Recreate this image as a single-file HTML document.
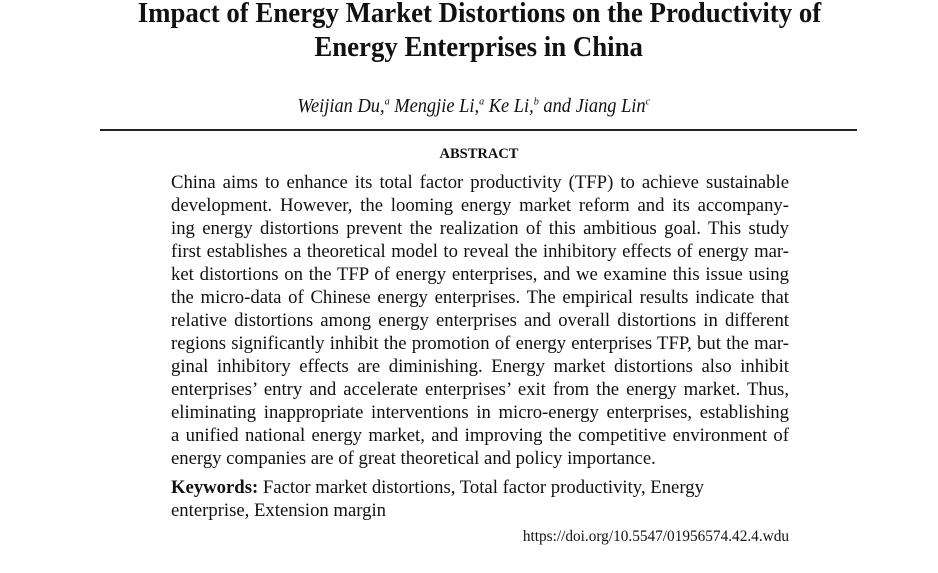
<!DOCTYPE html>
<html><head><meta charset="utf-8"><style>
body{margin:0;width:938px;height:573px;background:#fff;position:relative;overflow:hidden;font-family:"Liberation Serif",serif;color:#111}
.t{position:absolute;left:0;width:938px;text-align:center;white-space:nowrap}
.t span{display:inline-block;transform-origin:center}
.title{font-weight:bold;font-size:29px;left:10px}
.ab{position:absolute;left:171px;width:618px;font-size:18.7px;line-height:23px}
.j{text-align:justify;text-align-last:justify;white-space:nowrap;height:23px}
</style></head><body>
<div class="t title" style="top:-3px"><span style="transform:scaleX(0.925)">Impact of Energy Market Distortions on the Productivity of</span></div>
<div class="t title" style="top:31px"><span style="transform:scaleX(0.925)">Energy Enterprises in China</span></div>
<div class="t" style="top:95px;font-size:20px;font-style:italic;left:5px"><span style="transform:scaleX(0.92)">Weijian Du,<sup style="font-size:11px">a</sup> Mengjie Li,<sup style="font-size:11px">a</sup> Ke Li,<sup style="font-size:11px">b</sup> and Jiang Lin<sup style="font-size:11px">c</sup></span></div>
<div style="position:absolute;left:100px;top:129px;width:757px;height:2px;background:#222"></div>
<div class="t" style="top:146px;font-size:14.5px;font-weight:bold;left:10px">ABSTRACT</div>
<div class="ab" style="top:171px">
<div class="j">China aims to enhance its total factor productivity (TFP) to achieve sustainable</div>
<div class="j">development. However, the looming energy market reform and its accompany-</div>
<div class="j">ing energy distortions prevent the realization of this ambitious goal. This study</div>
<div class="j">first establishes a theoretical model to reveal the inhibitory effects of energy mar-</div>
<div class="j">ket distortions on the TFP of energy enterprises, and we examine this issue using</div>
<div class="j">the micro-data of Chinese energy enterprises. The empirical results indicate that</div>
<div class="j">relative distortions among energy enterprises and overall distortions in different</div>
<div class="j">regions significantly inhibit the promotion of energy enterprises TFP, but the mar-</div>
<div class="j">ginal inhibitory effects are diminishing. Energy market distortions also inhibit</div>
<div class="j">enterprises’ entry and accelerate enterprises’ exit from the energy market. Thus,</div>
<div class="j">eliminating inappropriate interventions in micro-energy enterprises, establishing</div>
<div class="j">a unified national energy market, and improving the competitive environment of</div>
<div style="height:23px;white-space:nowrap">energy companies are of great theoretical and policy importance.</div>
<div style="height:6px"></div>
<div style="white-space:nowrap"><b>Keywords:</b> Factor market distortions, Total factor productivity, Energy</div>
<div style="white-space:nowrap">enterprise, Extension margin</div>
</div>
<div style="position:absolute;right:149px;top:528px;font-size:15.3px;white-space:nowrap">https://doi.org/10.5547/01956574.42.4.wdu</div>
</body></html>
